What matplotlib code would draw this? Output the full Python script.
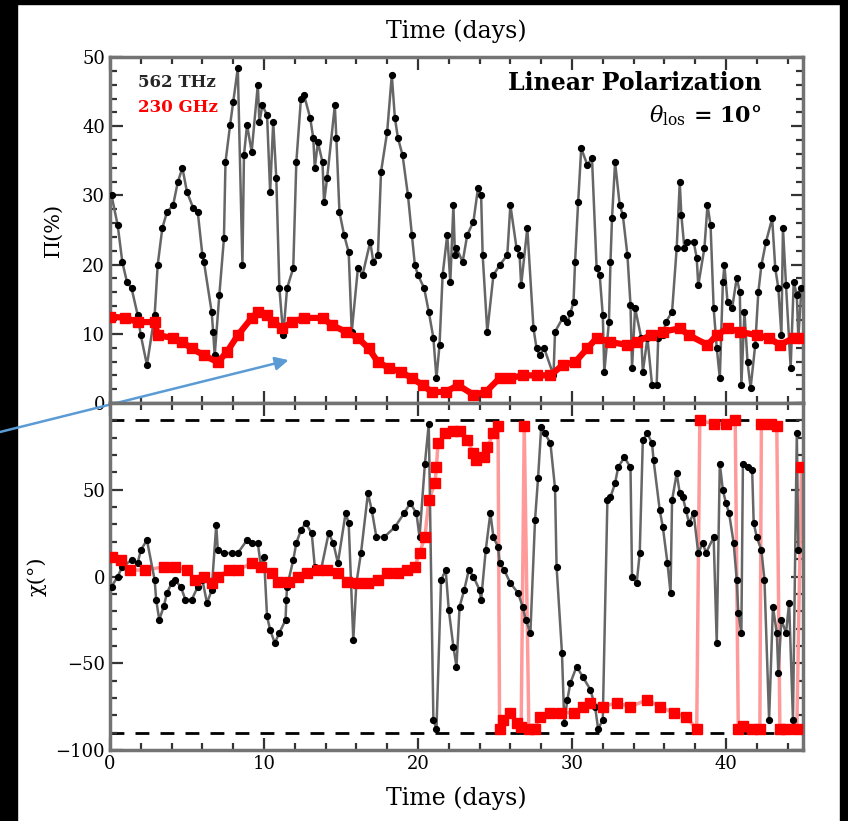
import matplotlib.pyplot as plt
from matplotlib.patches import Rectangle
from matplotlib.ticker import MultipleLocator

# 562 THz fractional polarization (%)
t_ir_pol = [0.1, 0.5, 0.8, 1.1, 1.4, 1.8, 2.0, 2.4, 2.9, 3.1, 3.4, 3.7, 4.1, 4.4, 4.7,
            5.0, 5.4, 5.7, 6.0, 6.1, 6.6, 6.7, 6.8, 7.1, 7.4, 7.5, 7.8, 8.0, 8.3, 8.6,
            8.7, 8.9, 9.2, 9.6, 9.7, 9.9, 10.2, 10.4, 10.6, 10.8, 11.0, 11.25, 11.5, 11.9,
            12.1, 12.4, 12.6, 13.0, 13.2, 13.3, 13.5, 13.8, 13.9, 14.1, 14.6, 14.7, 14.9,
            15.2, 15.5, 15.7, 16.1, 16.4, 16.9, 17.1, 17.4, 17.6, 18.0, 18.3, 18.5, 18.7,
            19.0, 19.35, 19.6, 19.8, 20.0, 20.4, 20.7, 21.0, 21.2, 21.4, 21.6, 21.9, 22.1,
            22.3, 22.4, 22.5, 22.9, 23.2, 23.6, 23.9, 24.1, 24.2, 24.5, 24.9, 25.3, 25.8,
            26.0, 26.4, 26.6, 26.7, 27.1, 27.5, 27.7, 27.9, 28.2, 28.8, 28.9, 29.4, 29.7,
            29.9, 30.1, 30.2, 30.4, 30.6, 31.0, 31.3, 31.6, 31.8, 32.0, 32.1, 32.4, 32.5,
            32.6, 32.8, 33.1, 33.3, 33.6, 33.8, 33.9, 34.1, 34.5, 34.6, 34.9, 35.2, 35.5,
            35.6, 35.9, 36.1, 36.5, 36.8, 37.0, 37.1, 37.3, 37.5, 37.9, 38.1, 38.2, 38.6,
            38.8, 39.0, 39.2, 39.4, 39.6, 39.8, 39.9, 40.1, 40.4, 40.7, 40.9, 41.0, 41.2,
            41.4, 41.6, 41.9, 42.1, 42.3, 42.6, 43.0, 43.2, 43.4, 43.6, 43.7, 43.9, 44.2,
            44.4, 44.6, 44.7, 44.9]
pol_ir = [30.0, 25.7, 20.4, 17.5, 16.6, 12.7, 9.8, 5.5, 12.7, 20.0, 25.3, 27.6, 28.6, 31.9, 34.0,
          30.5, 28.2, 27.6, 21.4, 20.4, 13.2, 10.3, 6.9, 15.6, 23.8, 34.8, 40.2, 43.5, 48.4, 19.9,
          35.8, 40.2, 36.3, 46.0, 40.6, 43.0, 41.6, 30.5, 40.6, 32.5, 16.6, 9.8, 16.6, 19.5,
          34.8, 44.0, 44.5, 41.2, 38.3, 34.0, 37.7, 34.8, 29.0, 32.5, 43.0, 38.3, 27.6,
          24.3, 21.8, 10.3, 19.5, 18.5, 23.3, 20.4, 21.4, 33.4, 39.2, 47.4, 41.2, 38.3,
          35.8, 30.0, 24.3, 19.9, 18.5, 16.6, 13.2, 9.4, 3.6, 8.4, 18.5, 24.3, 17.5,
          28.6, 21.4, 22.4, 20.4, 24.3, 26.2, 31.1, 30.0, 21.4, 10.3, 18.5, 19.9, 21.4,
          28.6, 22.4, 21.4, 17.0, 25.3, 10.8, 7.9, 6.9, 7.9, 4.0, 10.3, 12.3, 11.7,
          13.0, 14.6, 20.4, 29.0, 36.8, 34.4, 35.4, 19.5, 18.5, 12.7, 4.5, 11.7, 20.4,
          26.7, 34.8, 28.6, 27.2, 21.4, 14.2, 5.1, 13.7, 9.4, 4.5, 9.4, 2.6, 2.6,
          9.4, 9.8, 11.7, 13.2, 22.4, 31.9, 27.2, 22.4, 23.3, 23.3, 21.0, 17.0, 22.4,
          28.6, 25.7, 13.7, 8.0, 3.6, 17.5, 19.9, 14.6, 13.7, 18.1, 16.0, 2.6, 13.2,
          5.9, 2.2, 8.4, 16.0, 19.9, 23.3, 26.7, 19.5, 16.6, 9.8, 25.3, 17.0, 5.1,
          17.5, 15.6, 9.4, 16.6]

# 230 GHz fractional polarization (%)
t_mm_pol = [0.0, 1.0, 1.8, 2.9, 3.1, 4.1, 4.7, 5.3, 6.1, 7.0, 7.6, 8.3, 9.2, 9.6, 10.2, 10.6,
            11.2, 11.8, 12.6, 13.8, 14.4, 15.3, 16.1, 16.8, 17.4, 18.1, 18.9, 19.6, 20.3,
            20.9, 21.8, 22.6, 23.6, 24.4, 25.3, 26.0, 26.8, 27.7, 28.6, 29.4, 30.2, 31.0,
            31.6, 32.5, 33.6, 34.2, 35.1, 35.9, 37.0, 37.6, 38.8, 39.4, 40.1, 40.9, 42.0,
            42.8, 43.5, 44.4, 45.0]
pol_mm = [12.5, 12.3, 11.7, 11.7, 9.8, 9.4, 8.8, 7.9, 6.9, 5.9, 7.4, 9.8, 12.3, 13.2, 12.7, 11.7,
          10.8, 11.7, 12.3, 12.3, 11.3, 10.3, 9.4, 7.9, 5.9, 5.1, 4.5, 3.6, 2.6,
          1.6, 1.6, 2.6, 1.2, 1.6, 3.6, 3.6, 4.0, 4.0, 4.0, 5.5, 5.9, 7.9,
          9.4, 8.8, 8.4, 8.8, 9.8, 10.3, 10.8, 9.8, 8.4, 9.8, 10.8, 10.3, 9.8,
          9.4, 8.4, 9.4, 9.4]

# 562 THz polarization angle (deg)
t_ir_chi = [0.1, 0.5, 0.8, 1.4, 1.8, 2.0, 2.4, 2.9, 3.0, 3.2, 3.5, 3.7, 4.0, 4.2, 4.6, 4.9,
            5.3, 5.7, 6.0, 6.3, 6.6, 6.9, 7.0, 7.4, 7.9, 8.3, 8.9, 9.2, 9.6, 9.8, 10.0,
            10.2, 10.4, 10.7, 11.0, 11.4, 11.45, 11.5, 11.9, 12.1, 12.4, 12.7, 13.1, 13.3,
            13.7, 14.2, 14.5, 14.8, 15.3, 15.5, 15.8, 16.0, 16.3, 16.75, 17.0, 17.3, 17.8,
            18.5, 19.1, 19.5, 19.9, 20.1, 20.45, 20.7, 21.0, 21.2, 21.5, 21.8, 22.0, 22.3,
            22.5, 22.7, 23.0, 23.3, 23.6, 24.0, 24.1, 24.4, 24.7, 24.9, 25.2, 25.3, 25.6,
            26.0, 26.5, 26.8, 27.0, 27.3, 27.6, 27.8, 28.0, 28.25, 28.6, 28.9, 29.0, 29.35,
            29.5, 29.7, 29.9, 30.3, 30.7, 31.2, 31.5, 31.7, 32.0, 32.3, 32.5, 32.8, 33.0,
            33.4, 33.8, 33.9, 34.2, 34.4, 34.6, 34.9, 35.2, 35.3, 35.7, 35.9, 36.2, 36.4,
            36.5, 36.8, 37.0, 37.2, 37.4, 37.6, 37.9, 38.2, 38.5, 38.7, 39.2, 39.4, 39.6,
            39.8, 40.0, 40.2, 40.5, 40.7, 40.8, 41.0, 41.1, 41.4, 41.7, 41.8, 42.0, 42.3,
            42.5, 42.8, 43.05, 43.3, 43.4, 43.6, 43.9, 44.1, 44.35, 44.6, 44.7]
chi_ir = [-5.9, 0.0, 5.6, 9.5, 7.8, 15.2, 21.0, -2.0, -13.5, -25.0, -17.0, -9.5, -3.8, -2.0, -5.9, -13.5,
          -13.5, -5.9, -2.0, -15.3, -8.0, 29.6, 15.2, 13.5, 13.5, 13.5, 21.0, 19.3, 19.3, 5.6, 11.4,
          -23.0, -30.8, -38.3, -32.5, -25.0, -13.5, -5.9, 9.5, 19.3, 26.7, 30.8, 25.0, 5.6,
          3.7, 25.0, 19.3, 7.8, 36.5, 30.8, -36.5, -3.8, 13.5, 48.0, 38.2, 22.7, 22.7,
          28.5, 36.5, 42.3, 36.5, 22.7, 65.0, 88.0, -82.5, -88.0, -2.0, 3.7, -19.3, -40.5,
          -51.9, -17.5, -7.8, 3.7, 0.0, -7.8, -13.5, 15.2, 36.5, 22.7, 17.0, 7.8, 3.7,
          -3.8, -9.5, -17.5, -25.0, -32.5, 32.5, 57.0, 86.0, 82.5, 76.8, 50.9, 5.6, -44.0,
          -84.2, -71.0, -61.3, -51.9, -57.8, -65.3, -75.0, -88.0, -82.5, 44.0, 45.7, 53.8, 63.0,
          68.7, 63.0, 0.0, -3.8, 13.5, 78.5, 82.5, 76.8, 67.0, 38.2, 28.5, 7.8, -9.5,
          44.0, 59.5, 48.0, 45.7, 38.2, 30.8, 36.5, 13.5, 19.3, 13.5, 22.7, -38.3, 65.0,
          49.7, 42.3, 36.5, 19.3, -2.0, -21.0, -32.5, 65.0, 63.0, 61.3, 30.8, 22.7, 15.2,
          -2.0, -82.5, -17.5, -32.5, -55.6, -25.0, -32.5, -15.3, -82.5, 82.5, 15.2]

# 230 GHz polarization angle (deg)
t_mm_chi = [0.1, 0.7, 1.3, 2.3, 3.5, 4.2, 5.0, 5.5, 6.1, 6.6, 7.0, 7.7, 8.3, 9.2, 9.8, 10.5,
            10.9, 11.6, 12.2, 12.8, 13.5, 14.1, 14.8, 15.4, 16.1, 16.75, 17.4, 18.0, 18.7,
            19.3, 19.8, 20.1, 20.45, 20.7, 21.1, 21.2, 21.3, 21.75, 22.3, 22.7, 23.2, 23.6,
            23.8, 24.3, 24.5, 24.9, 25.2, 25.3, 25.5, 26.0, 26.4, 26.7, 26.9, 27.2, 27.6,
            27.9, 28.6, 29.3, 30.1, 30.7, 31.2, 32.0, 32.9, 33.8, 34.9, 35.7, 36.6, 37.4,
            38.1, 38.3, 39.2, 40.0, 40.6, 40.8, 41.1, 41.7, 42.2, 42.3, 42.9, 43.3, 43.5,
            43.9, 44.6, 44.9]
chi_mm = [11.2, 9.5, 3.7, 3.7, 5.6, 5.6, 3.7, -2.0, 0.0, -3.8, 0.0, 3.7, 3.7, 7.8, 5.6, 1.8,
          -3.0, -3.0, 0.0, 1.8, 3.7, 3.7, 1.8, -3.0, -3.8, -3.8, -2.0, 1.8, 1.8,
          3.7, 5.6, 13.5, 22.7, 44.0, 53.8, 63.0, 76.8, 82.5, 84.0, 84.0, 78.5, 71.0,
          67.0, 68.7, 74.5, 82.5, 87.0, -88.0, -82.5, -78.5, -84.2, -87.0, 87.0, -88.0, -88.0,
          -80.8, -78.5, -78.5, -78.5, -75.0, -72.9, -75.0, -72.9, -75.0, -71.0, -75.0, -78.5, -80.8,
          -88.0, 90.0, 88.0, 88.0, 90.0, -88.0, -86.0, -88.0, -88.0, 88.0, 88.0, 87.0, -88.0,
          -88.0, -88.0, 63.0]

plt.rcParams["font.family"] = "DejaVu Serif"
plt.rcParams["mathtext.fontset"] = "dejavuserif"

fig = plt.figure(figsize=(8.48, 8.21), dpi=100)  # 848 x 821 px canvas.
ax1 = fig.add_axes([0.1297, 0.5091, 0.8172, 0.4214])
ax2 = fig.add_axes([0.1297, 0.0865, 0.8172, 0.4226])

# Dark frame strips along the left, top and right edges.
fig.patches.append(Rectangle((0, 0), 17 / 848, 1, transform=fig.transFigure, color="black", zorder=-1))
fig.patches.append(Rectangle((0, 1 - 4 / 821), 1, 4 / 821, transform=fig.transFigure, color="black", zorder=-1))
fig.patches.append(Rectangle((1 - 8 / 848, 0), 8 / 848, 1, transform=fig.transFigure, color="black", zorder=-1))

# Top panel: polarization fraction.
ax1.plot(t_ir_pol, pol_ir, color="0.4", linewidth=1.8, zorder=2)
ax1.plot(t_ir_pol, pol_ir, linestyle="none", marker="o", markersize=4.2, color="black", zorder=3)
ax1.plot(t_mm_pol, pol_mm, color="red", linewidth=4.5, marker="s", markersize=6.5, zorder=4)

# Bottom panel: polarization angle, with the +/-90 deg limits dashed.
ax2.axhline(90, color="black", linestyle=(0, (5, 4)), linewidth=2, zorder=1)
ax2.axhline(-90, color="black", linestyle=(0, (5, 4)), linewidth=2, zorder=1)
ax2.plot(t_mm_chi, chi_mm, color="#ff9a9a", linewidth=2.5, zorder=2)
ax2.plot(t_ir_chi, chi_ir, color="0.4", linewidth=1.8, zorder=3)
ax2.plot(t_ir_chi, chi_ir, linestyle="none", marker="o", markersize=4.2, color="black", zorder=4)
ax2.plot(t_mm_chi, chi_mm, linestyle="none", marker="s", markersize=6.5, color="red", zorder=5)

ax1.set_xlim(0, 45)
ax1.set_ylim(0, 50)
ax2.set_xlim(0, 45)
ax2.set_ylim(-100, 100)

for ax in (ax1, ax2):
    ax.xaxis.set_major_locator(MultipleLocator(10))
    ax.xaxis.set_minor_locator(MultipleLocator(2))
    ax.tick_params(which="both", direction="in", top=True, right=True, color="0.2", labelsize=13)
    ax.tick_params(which="major", length=9, width=1.6)
    ax.tick_params(which="minor", length=5, width=1.6)
    for spine in ax.spines.values():
        spine.set_color("0.45")
        spine.set_linewidth(2.5)

ax1.yaxis.set_major_locator(MultipleLocator(10))
ax1.yaxis.set_minor_locator(MultipleLocator(2))
ax2.yaxis.set_minor_locator(MultipleLocator(10))
ax2.set_yticks([-100, -50, 0, 50])

ax1.tick_params(labelbottom=False)
ax1.xaxis.set_label_position("top")
ax1.set_xlabel("Time (days)", fontsize=17, labelpad=14)
ax2.set_xlabel("Time (days)", fontsize=17, labelpad=10)
ax1.set_ylabel("Π(%)", fontsize=15, labelpad=14)
ax2.set_ylabel("χ(°)", fontsize=15, labelpad=6)

# Series labels and panel annotations.
ax1.text(0.04, 0.95, "562 THz", transform=ax1.transAxes, fontsize=12, fontweight="bold",
         color="0.15", va="top")
ax1.text(0.04, 0.88, "230 GHz", transform=ax1.transAxes, fontsize=12, fontweight="bold",
         color="red", va="top")
ax1.text(0.94, 0.96, "Linear Polarization", transform=ax1.transAxes, fontsize=17,
         fontweight="semibold", ha="right", va="top")
ax1.text(0.94, 0.87, r"$\theta_{\rm los}$ = 10°", transform=ax1.transAxes, fontsize=16,
         fontweight="semibold", ha="right", va="top")

# Pointer arrow coming in from the left edge.
ax1.annotate("", xy=(11.6, 6.2), xycoords="data", xytext=(0.0, 1 - 432 / 821),
             textcoords="figure fraction",
             arrowprops=dict(arrowstyle="-|>", color="#5b9bd5", linewidth=1.8,
                             mutation_scale=20, shrinkA=0, shrinkB=0),
             annotation_clip=False)

fig.savefig("out.png", dpi=100)
